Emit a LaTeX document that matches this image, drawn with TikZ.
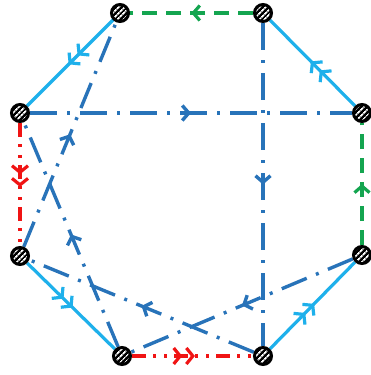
\documentclass[tikz,border=0pt]{standalone}
\usetikzlibrary{arrows.meta,decorations.markings,patterns.meta,backgrounds}
\definecolor{cyanL}{RGB}{30,176,235}
\definecolor{blueD}{RGB}{40,115,185}
\definecolor{greenD}{RGB}{20,165,80}
\definecolor{redL}{RGB}{240,20,20}
\tikzset{
 vtx/.style={circle, draw=black, line width=3pt, minimum size=17pt, inner sep=0pt,
   preaction={fill=black}, pattern={Lines[angle=45,distance=4pt,line width=1.8pt]}, pattern color=white},
 tipS/.style={decoration={markings, mark=at position 0.5 with {\arrow{Straight Barb[length=6.5pt,width=15pt]}}}, postaction={decorate}},
 tipD/.style={decoration={markings, mark=at position 0.52 with {\arrow{Straight Barb[length=6.5pt,width=16pt,sep=2.5pt] Straight Barb[length=6.5pt,width=16pt]}}}, postaction={decorate}},
 solidE/.style={draw=cyanL, line width=3.2pt, tipD},
 diagE/.style={draw=blueD, line width=3.4pt, dash pattern=on 27pt off 10pt on 3pt off 10pt, tipS},
 greenE/.style={draw=greenD, line width=3.2pt, dash pattern=on 15pt off 9pt, tipS},
 redE/.style={draw=redL, line width=3.2pt, dash pattern=on 14pt off 7pt on 3pt off 8pt on 3pt off 7pt, tipD},
}
\begin{document}
\begin{tikzpicture}[x=1pt,y=-1pt]
\useasboundingbox (0,0) rectangle (371,375);
\node[vtx] (nA) at (120,13) {};
\node[vtx] (nB) at (263,13) {};
\node[vtx] (nC) at (362,113) {};
\node[vtx] (nD) at (362,255) {};
\node[vtx] (nE) at (263,356) {};
\node[vtx] (nF) at (122,356) {};
\node[vtx] (nG) at (20,256) {};
\node[vtx] (nH) at (20,113) {};
\begin{scope}[on background layer]
% outer edges
\draw[greenE] (nB) -- (nA);
\draw[solidE] (nC) -- (nB);
\draw[greenE] (nD) -- (nC);
\draw[solidE] (nE) -- (nD);
\draw[redE] (nF) -- (nE);
\draw[solidE] (nG) -- (nF);
\draw[redE] (nH) -- (nG);
\draw[solidE] (nA) -- (nH);
% diagonals
\draw[diagE] (nH) -- (nC);
\draw[diagE] (nB) -- (nE);
\draw[diagE] (nG) -- (nA);
\draw[diagE] (nF) -- (nH);
\draw[diagE] (nE) -- (nG);
\draw[diagE] (nD) -- (nF);
\end{scope}
\end{tikzpicture}
\end{document}
